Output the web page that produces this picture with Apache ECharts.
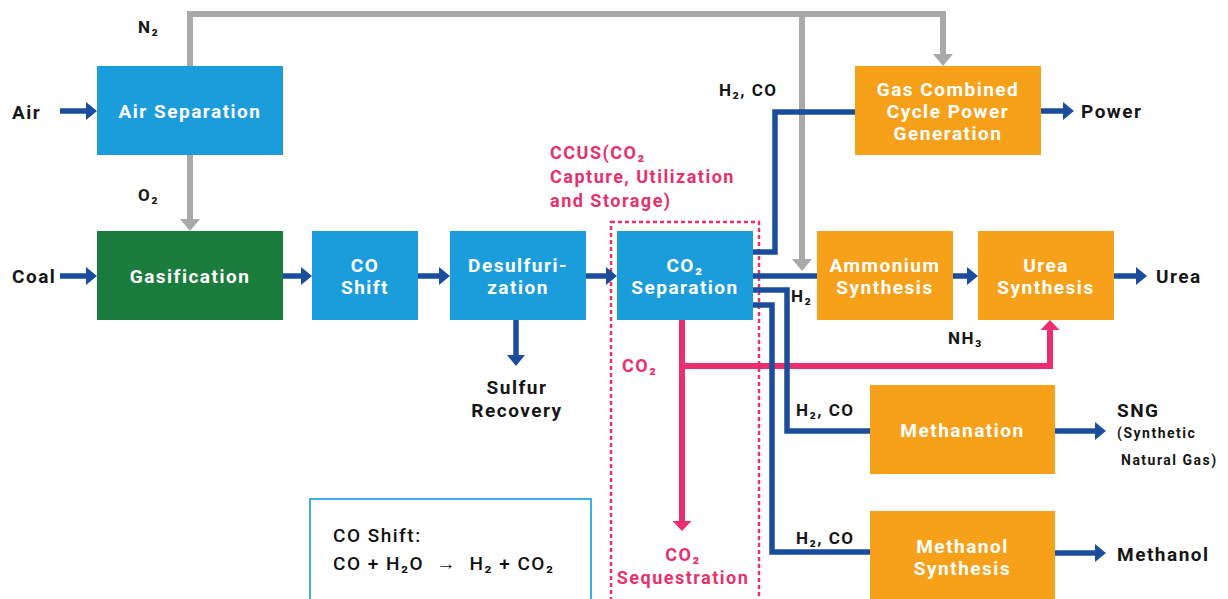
<!DOCTYPE html>
<html><head><meta charset="utf-8">
<script src="https://cdn.jsdelivr.net/npm/echarts@6/dist/echarts.min.js"></script>
<style>
html,body{margin:0;padding:0;background:#fff}
#main{width:1228px;height:599px;letter-spacing:1.5px}
</style>
</head><body><div id="main"></div>
<script>
// ---- process units ----
const unitNames = ['Air Separation','Gasification','CO\nShift','Desulfuri-\nzation','CO₂\nSeparation',
  'Gas Combined\nCycle Power\nGeneration','Ammonium\nSynthesis','Urea\nSynthesis','Methanation','Methanol\nSynthesis'];
const unitKinds = ['prep','gasify','prep','prep','prep','product','product','product','product','product'];
// [left, top, right, bottom] in diagram units
const unitBounds = [[97,66,283,155],[97,231,283,320],[312,231,418,320],[450,231,586,320],[617,231,753,320],
  [855,66,1041,155],[817,231,953,320],[978,231,1114,320],[870,385,1055,474],[870,511,1055,602]];

// ---- flows ----
const flowKinds = ['gas','gas','gas',
  'co2','co2',
  'main','main','main','main','main','main','main','main','main','main','main','main','main','main','main'];
const flowArrow = [true,true,true, true,true,
  true,true,true,true,true,true,false,false,false,false,true,true,true,true,true];
const flowPaths = [
  [[190,66],[190,14],[943,14],[943,66]],
  [[802,14],[802,271]],
  [[190,155],[190,231]],
  [[682,320],[682,531]],
  [[682,366],[1050,366],[1050,320]],
  [[60,111],[97,111]],
  [[60,276],[97,276]],
  [[283,276],[312,276]],
  [[418,276],[450,276]],
  [[586,276],[617,276]],
  [[516,320],[516,366]],
  [[753,252],[775,252],[775,112],[855,112]],
  [[753,276],[817,276]],
  [[753,290],[787,290],[787,431],[870,431]],
  [[753,305],[772,305],[772,552],[870,552]],
  [[953,276],[978,276]],
  [[1114,276],[1147,276]],
  [[1041,111],[1074,111]],
  [[1055,431],[1106,431]],
  [[1055,553],[1106,553]]
];

// ---- free labels ----
const tagTexts = ['N₂','O₂','Air','Coal','H₂, CO','H₂','NH₃','H₂, CO','H₂, CO','Power','Urea','SNG','(Synthetic','Natural Gas)','Methanol','Sulfur\nRecovery'];
const tagKinds = ['lbl','lbl','big','big','lbl','lbl','lbl','lbl','lbl','big','big','big','small','small','big','bigc'];
const tagAnchors = [[138,27],[138,195],[12,112],[12,276],[719,90],[791,296],[948,338],[796,410],[796,538],
  [1081,111],[1156,276],[1117,410],[1117,433],[1121,460],[1117,554],[517,399]];

const pinkTexts = ['CCUS(CO₂\nCapture, Utilization\nand Storage)','CO₂','CO₂\nSequestration'];
const pinkAlign = ['left','left','center'];
const pinkAnchors = [[550,176],[622,365],[683,566]];

const noteLines = ['CO Shift:','CO + H₂O  →  H₂ + CO₂'];
const noteAnchors = [[333,535],[333,563]];
const frameBounds = [[310,499,591,610],[611,222,759,610]];
const frameKinds = ['note','ccus'];

// ---- styles ----
const FONT = 'Roboto, "Open Sans", sans-serif';
const unitFill = {prep:'#1c9ddb', gasify:'#1b7d3d', product:'#f7a11b'};
const flowStyle = {
  gas:{color:'#a9a9a9', width:6, head:12, headW:20},
  main:{color:'#1a4d9b', width:5.5, head:11, headW:18},
  co2:{color:'#ec2e6c', width:6, head:10, headW:19}
};
const tagStyle = {
  lbl:{size:17, align:'left'}, big:{size:19, align:'left'}, bigc:{size:19, align:'center'}, small:{size:14, align:'left'}
};

function renderUnit(params, api) {
  const p0 = api.coord([api.value(0), api.value(1)]);
  const p1 = api.coord([api.value(2), api.value(3)]);
  const i = params.dataIndex;
  return {type:'group', children:[
    {type:'rect', shape:{x:p0[0], y:p0[1], width:p1[0]-p0[0], height:p1[1]-p0[1]},
      style:{fill:unitFill[unitKinds[i]]}},
    {type:'text', x:(p0[0]+p1[0])/2, y:(p0[1]+p1[1])/2+1,
      style:{text:unitNames[i], fill:'#ffffff', align:'center', verticalAlign:'middle',
        font:'bold 19px ' + FONT, lineHeight:22}}
  ]};
}

function renderFlow(params, api) {
  const i = params.dataIndex;
  const st = flowStyle[flowKinds[i]];
  const pts = flowPaths[i].map(p => api.coord(p));
  const children = [];
  const linePts = pts.map(p => p.slice());
  if (flowArrow[i]) {
    const a = pts[pts.length-2], b = pts[pts.length-1];
    const dx = b[0]-a[0], dy = b[1]-a[1], len = Math.hypot(dx, dy);
    const ux = dx/len, uy = dy/len;
    const base = [b[0]-ux*st.head, b[1]-uy*st.head];
    linePts[linePts.length-1] = [b[0]-ux*(st.head-1), b[1]-uy*(st.head-1)];
    children.push({type:'polygon', shape:{points:[b,
      [base[0]-uy*st.headW/2, base[1]+ux*st.headW/2],
      [base[0]+uy*st.headW/2, base[1]-ux*st.headW/2]]}, style:{fill:st.color}});
  }
  children.unshift({type:'polyline', shape:{points:linePts},
    style:{stroke:st.color, lineWidth:st.width, fill:null, lineJoin:'miter', lineCap:'butt'}});
  return {type:'group', children};
}

function renderTag(params, api) {
  const i = params.dataIndex;
  const p = api.coord([api.value(0), api.value(1)]);
  const st = tagStyle[tagKinds[i]];
  return {type:'text', x:p[0], y:p[1], style:{text:tagTexts[i], fill:'#161616', align:st.align,
    verticalAlign:'middle', font:'bold ' + st.size + 'px ' + FONT, lineHeight:23}};
}

function renderPink(params, api) {
  const i = params.dataIndex;
  const p = api.coord([api.value(0), api.value(1)]);
  return {type:'text', x:p[0], y:p[1], style:{text:pinkTexts[i], fill:'#e8306c', align:pinkAlign[i],
    verticalAlign:'middle', font:'bold 18px ' + FONT, lineHeight:i===0?24:23}};
}

function renderNote(params, api) {
  const i = params.dataIndex;
  const p = api.coord([api.value(0), api.value(1)]);
  return {type:'text', x:p[0], y:p[1], style:{text:noteLines[i], fill:'#111111', align:'left',
    verticalAlign:'middle', font:'500 19px ' + FONT}};
}

function renderFrame(params, api) {
  const i = params.dataIndex;
  const p0 = api.coord([api.value(0), api.value(1)]);
  const p1 = api.coord([api.value(2), api.value(3)]);
  const ccus = frameKinds[i] === 'ccus';
  return {type:'rect', shape:{x:p0[0], y:p0[1], width:p1[0]-p0[0], height:p1[1]-p0[1]},
    style:{fill:null, stroke: ccus ? '#ec2e6c' : '#3cb0e6', lineWidth: ccus ? 2.5 : 2, lineDash: ccus ? [4,3] : null}};
}

const chart = echarts.init(document.getElementById('main'), null, {renderer:'svg'});
const gasIdx = [], co2Idx = [], mainIdx = [];
flowKinds.forEach((k, i) => (k === 'gas' ? gasIdx : k === 'co2' ? co2Idx : mainIdx).push(i));
function flowSeries(idxList) {
  return {type:'custom', coordinateSystem:'cartesian2d', clip:false, silent:true,
    data: idxList.map(i => ({value:[flowPaths[i][0][0], flowPaths[i][0][1]], idx:i})),
    renderItem: (params, api) => renderFlow({dataIndex: idxList[params.dataIndex]}, api)};
}
chart.setOption({
  animation:false,
  backgroundColor:'#ffffff',
  grid:{left:0, right:0, top:0, bottom:0},
  xAxis:{type:'value', min:0, max:1228, show:false},
  yAxis:{type:'value', min:0, max:599, inverse:true, show:false},
  series:[
    {type:'custom', coordinateSystem:'cartesian2d', clip:false, silent:true, data:frameBounds, renderItem:renderFrame},
    flowSeries(gasIdx),
    flowSeries(co2Idx),
    flowSeries(mainIdx),
    {type:'custom', coordinateSystem:'cartesian2d', clip:false, silent:true, data:unitBounds, renderItem:renderUnit},
    {type:'custom', coordinateSystem:'cartesian2d', clip:false, silent:true, data:tagAnchors, renderItem:renderTag},
    {type:'custom', coordinateSystem:'cartesian2d', clip:false, silent:true, data:pinkAnchors, renderItem:renderPink},
    {type:'custom', coordinateSystem:'cartesian2d', clip:false, silent:true, data:noteAnchors, renderItem:renderNote}
  ]
});
</script>
</body></html>
